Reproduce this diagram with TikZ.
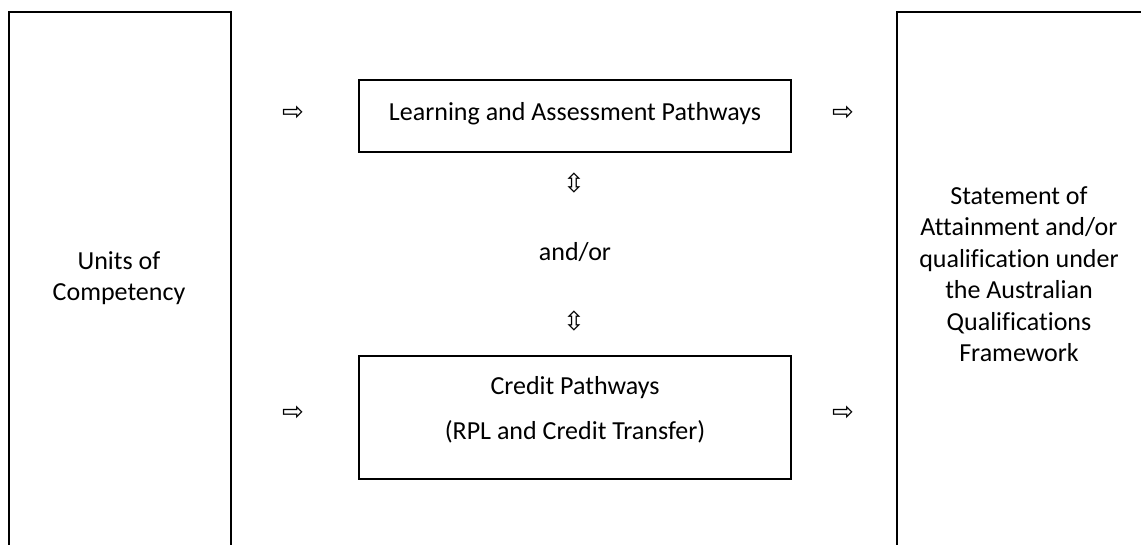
\documentclass[tikz,border=0pt]{standalone}
\usepackage{fontspec}
\setmainfont{Carlito}[Ligatures=NoCommon]
\newfontfamily\arrowfont{DejaVu Sans}
\begin{document}
\begin{tikzpicture}[x=1pt,y=-1pt,
  outerbox/.style={draw, line width=2pt, rectangle, inner sep=0pt},
  innerbox/.style={draw, line width=1.8pt, rectangle, inner sep=0pt, minimum width=432pt},
  label/.style={font=\fontsize{26}{31.5}\selectfont, align=center, inner sep=0pt},
  glyph/.style={font=\arrowfont\fontsize{26}{26}\selectfont, inner sep=0pt}]
  \useasboundingbox (0,0) rectangle (1141,544);
  \begin{scope}
    \clip (0,0) rectangle (1141,544);
    % open-ended side columns
    \node[outerbox, minimum width=222pt, minimum height=600pt, anchor=north west] (units) at (8,11) {};
    \node[outerbox, minimum width=300pt, minimum height=600pt, anchor=north west] (aqf) at (896,11) {};
  \end{scope}
  \node[label] (unitstext) at (119,278) {Units of\\Competency};
  \node[label] (aqftext) at (1019,274) {Statement of\\Attainment and/or\\qualification under\\the Australian\\Qualifications\\Framework};

  % pathway boxes
  \node[innerbox, minimum height=72pt] (lap) at (575,116) {};
  \node[label] (laptext) at (575,114) {Learning and Assessment Pathways};
  \node[innerbox, minimum height=123pt] (credit) at (575,417.5) {};
  \node[label] (credittext) at (575,410) {Credit Pathways\\[13pt](RPL and Credit Transfer)};
  \node[label] (andor) at (575,252) {and/or};

  % arrow symbols
  \node[glyph] (inA) at (293,113) {⇨};
  \node[glyph] (inB) at (293,413) {⇨};
  \node[glyph] (outA) at (843,113) {⇨};
  \node[glyph] (outB) at (843,413) {⇨};
  \node[glyph] (upA) at (574,183) {⇳};
  \node[glyph] (upB) at (574,321) {⇳};
\end{tikzpicture}
\end{document}
